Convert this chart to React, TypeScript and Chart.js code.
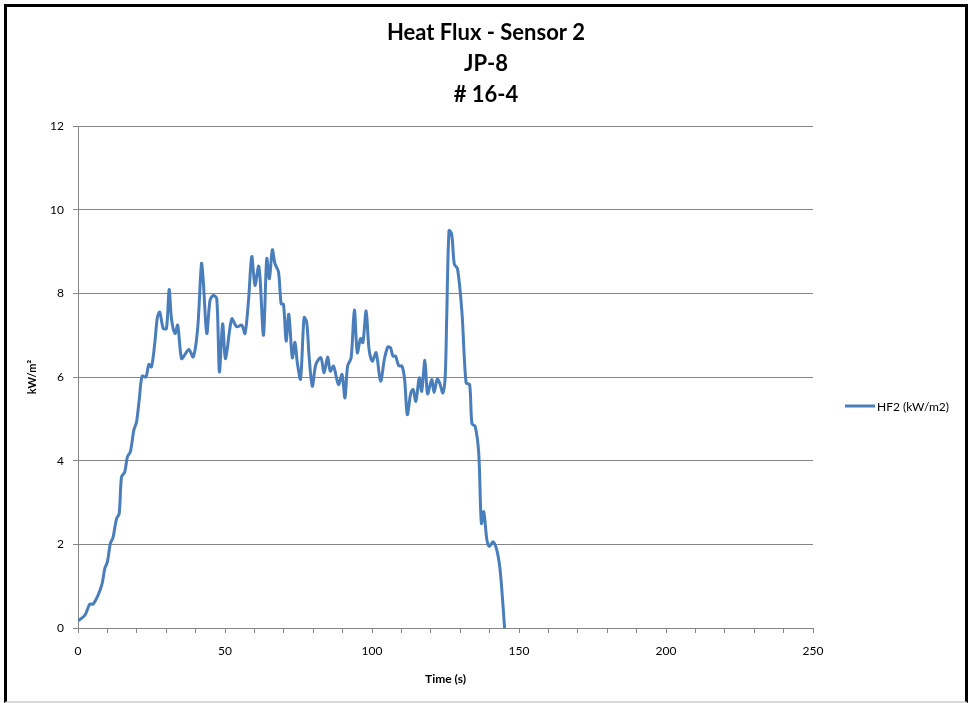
import React, { useEffect, useRef } from "react";
import { Chart, registerables } from "chart.js";

Chart.register(...registerables);

const titleLines = ["Heat Flux - Sensor 2", "JP-8", "# 16-4"];
const seriesLabel = "HF2 (kW/m2)";
const xAxisTitle = "Time (s)";
const yAxisTitle = "kW/m\u00B2";

const timeSeconds = [
  0, 2.3, 4, 5.1, 6.8, 8.2, 9.1, 10, 11, 11.9, 13.1, 14, 14.8, 15.9, 16.8, 17.8, 19, 19.9, 20.8, 21.8,
  23.1, 24.1, 25, 26.1, 27, 27.8, 29, 30.1, 31, 31.8, 33, 33.9, 35.2, 36.4, 37.7, 39.2, 40.7, 42, 42.6,
  43.8, 44.9, 46, 47.2, 48.1, 49.2, 50.2, 52.3, 54, 55.7, 56.8, 58, 59.1, 60.2, 61.4, 61.9, 63.1, 64.2,
  65.1, 66.1, 67, 68.2, 69.1, 69.9, 70.8, 71.7, 72.9, 73.8, 74.6, 75.7, 76.9, 77.8, 78.6, 79.7, 80.9,
  82.6, 83.7, 84.9, 85.8, 86.9, 88.6, 89.8, 90.8, 91.7, 92.9, 94, 95, 96.1, 96.9, 98, 99, 100.1, 101.4,
  102.9, 104.3, 105.4, 106.3, 107.1, 108, 109.1, 110.2, 111.1, 112, 113.2, 114, 114.9, 116.1, 116.9,
  118, 118.9, 120.3, 121.1, 122.2, 123.1, 124.1, 124.9, 125.4, 126.2, 127.1, 128, 129.1, 130.6, 132,
  133.2, 134, 135.1, 136.3, 137.2, 138, 139.1, 140, 141.2, 142.6, 143.7, 145.1,
];

const heatFlux = [
  0.17, 0.3, 0.57, 0.57, 0.78, 1.06, 1.42, 1.58, 2.02, 2.16, 2.61, 2.73, 3.61, 3.73, 4.09, 4.21, 4.73, 4.92, 5.44, 6.02,
  6.0, 6.3, 6.24, 6.8, 7.43, 7.55, 7.16, 7.16, 8.09, 7.39, 7.04, 7.24, 6.44, 6.54, 6.66, 6.48, 7.16, 8.71, 8.31,
  7.04, 7.83, 7.95, 7.87, 6.12, 7.27, 6.44, 7.39, 7.2, 7.24, 7.04, 7.83, 8.88, 8.19, 8.65, 8.39, 7.0, 8.83,
  8.35, 9.04, 8.71, 8.51, 7.75, 7.74, 6.86, 7.5, 6.46, 6.83, 6.34, 5.95, 7.42, 7.3, 6.5, 5.78, 6.3,
  6.46, 6.1, 6.48, 6.14, 6.26, 5.82, 6.06, 5.5, 6.26, 6.46, 7.6, 6.58, 6.92, 6.82, 7.58, 6.66, 6.38, 6.58,
  5.9, 6.46, 6.72, 6.7, 6.5, 6.5, 6.27, 6.26, 5.94, 5.1, 5.62, 5.7, 5.42, 5.98, 5.66,
  6.4, 5.6, 5.94, 5.63, 5.95, 5.84, 5.62, 6.02, 7.38, 9.5, 9.42, 8.7, 8.58, 7.54, 5.86,
  5.82, 4.88, 4.82, 4.18, 2.5, 2.78, 2.1, 1.95, 2.06, 1.82, 1.3, 0,
];

const xMin = 0;
const xMax = 250;
const xStep = 10;
const xLabelEvery = 50;
const yMin = 0;
const yMax = 12;
const yStep = 2;

const lineColor = "#4A7EBB";
const axisGrey = "#868686";
const fontFamily = "Lato, 'Open Sans', sans-serif";

const decorPlugin = {
  id: "decor",
  afterDraw(chart: any) {
    const ctx = chart.ctx;
    ctx.save();
    ctx.fillStyle = "#000";
    ctx.font = `bold 22px ${fontFamily}`;
    ctx.textAlign = "center";
    ctx.textBaseline = "middle";
    titleLines.forEach((line, i) => ctx.fillText(line, 486, 33 + i * 31));

    const ds = chart.data.datasets[0];
    const ly = 406;
    ctx.strokeStyle = ds.borderColor;
    ctx.lineWidth = 3;
    ctx.beginPath();
    ctx.moveTo(845, ly);
    ctx.lineTo(875, ly);
    ctx.stroke();
    ctx.font = `12px ${fontFamily}`;
    ctx.textAlign = "left";
    ctx.fillText(ds.label, 877, ly + 1);
    ctx.restore();
  },
};

export default function App() {
  const canvasRef = useRef<HTMLCanvasElement | null>(null);

  useEffect(() => {
    if (!canvasRef.current) return;
    const points = timeSeconds.map((t, i) => ({ x: t, y: heatFlux[i] }));
    const chart = new Chart(canvasRef.current, {
      type: "line",
      data: {
        datasets: [
          {
            label: seriesLabel,
            data: points,
            borderColor: lineColor,
            backgroundColor: lineColor,
            borderWidth: 3,
            pointRadius: 0,
            tension: 0.3,
            fill: false,
          },
        ],
      },
      options: {
        animation: false,
        responsive: false,
        maintainAspectRatio: false,
        layout: { padding: { left: 0, top: 126, right: 155, bottom: 0 } },
        plugins: {
          legend: { display: false },
          title: { display: false },
          tooltip: { enabled: false },
        },
        scales: {
          x: {
            type: "linear",
            min: xMin,
            max: xMax,
            afterFit: (s: any) => {
              s.height = 75;
            },
            ticks: {
              stepSize: xStep,
              autoSkip: false,
              maxRotation: 0,
              padding: 11,
              color: "#000",
              font: { family: fontFamily, size: 12 },
              callback: (v: any) => (Number(v) % xLabelEvery === 0 ? String(v) : ""),
            },
            grid: {
              drawOnChartArea: false,
              drawTicks: true,
              tickLength: 5,
              color: axisGrey,
              lineWidth: 1,
            },
            border: { display: true, color: axisGrey, width: 1 },
            title: {
              display: true,
              text: xAxisTitle,
              color: "#000",
              font: { family: fontFamily, size: 12, weight: "bold" },
              padding: { top: 0, bottom: 17 },
            },
          },
          y: {
            type: "linear",
            min: yMin,
            max: yMax,
            afterFit: (s: any) => {
              s.width = 78;
            },
            ticks: {
              stepSize: yStep,
              padding: 9,
              color: "#000",
              font: { family: fontFamily, size: 12 },
            },
            grid: {
              drawOnChartArea: true,
              drawTicks: true,
              tickLength: 5,
              color: axisGrey,
              lineWidth: 1,
            },
            border: { display: true, color: axisGrey, width: 1 },
            title: {
              display: true,
              text: yAxisTitle,
              color: "#000",
              font: { family: fontFamily, size: 11, weight: "bold" },
              padding: { top: 26, bottom: 0 },
            },
          },
        },
      },
      plugins: [decorPlugin],
    });
    return () => chart.destroy();
  }, []);

  return (
    <div style={{ position: "absolute", left: 0, top: 0, width: 968, height: 703, background: "#fff" }}>
      <canvas ref={canvasRef} width={968} height={703} style={{ position: "absolute", left: 0, top: 0, width: 968, height: 703 }} />
      <div
        style={{
          position: "absolute",
          left: 4,
          top: 4,
          width: 964,
          height: 699,
          boxSizing: "border-box",
          borderTop: "3px solid #000",
          borderLeft: "3px solid #000",
          borderRight: "3px solid #000",
          borderBottom: "2px solid #d9d9d9",
          pointerEvents: "none",
        }}
      />
    </div>
  );
}
